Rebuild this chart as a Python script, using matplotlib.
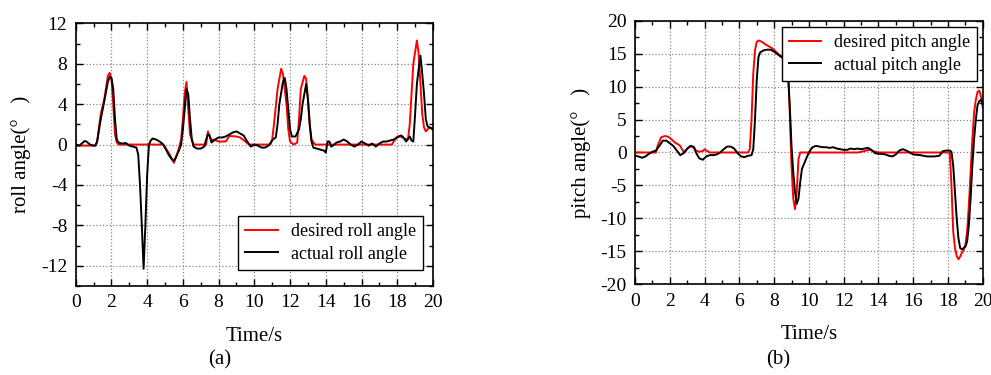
import numpy as np
import matplotlib
matplotlib.use('Agg')
import matplotlib.pyplot as plt
from matplotlib.ticker import MultipleLocator

plt.rcParams['font.family'] = ['Liberation Serif', 'DejaVu Serif']
plt.rcParams['axes.unicode_minus'] = False

# (a) roll angle
roll_des_t = [0, 1.1, 1.2, 1.4, 1.6, 1.8, 1.9, 2.0, 2.1, 2.2, 2.3, 2.4, 4.9, 5.2, 5.5, 5.7, 5.8,
              5.9, 6.0, 6.1, 6.2, 6.3, 6.4, 6.6, 7.3, 7.4, 7.5, 7.6, 7.7, 8.0, 8.4, 8.6, 9.0,
              9.2, 9.5, 9.7, 10.9, 11.0, 11.1, 11.3, 11.5, 11.6, 11.8, 11.9, 12.0, 12.2, 12.4,
              12.5, 12.6, 12.8, 12.9, 13.0, 13.1, 13.2, 13.4, 17.7, 17.8, 18.0, 18.2, 18.4, 18.6,
              18.7, 18.8, 18.9, 19.1, 19.2, 19.3, 19.4, 19.5, 19.6, 19.8, 20.0]
roll_des = [-0.1, -0.1, 0.3, 3.0, 4.5, 6.8, 7.1, 6.5, 4.0, 1.0, 0.2, 0.0, 0.0, -0.8, -1.8, -0.8, -0.2,
            0.5, 2.5, 5.0, 6.2, 3.5, 1.0, 0.0, 0.0, 1.3, 0.8, 0.4, 0.5, 0.3, 0.3, 0.85, 0.8,
            0.7, 0.3, 0.0, 0.0, 0.5, 2.0, 5.5, 7.5, 7.0, 4.0, 1.5, 0.3, 0.0, 0.2,
            2.5, 5.5, 6.8, 6.5, 4.5, 2.0, 0.5, 0.0, 0.0, 0.3, 0.8, 0.8, 0.6, 0.5,
            2.0, 5.0, 8.0, 10.3, 9.0, 6.0, 3.0, 1.7, 1.3, 1.7, 1.6]

roll_act_t = [0, 0.2, 0.4, 0.5, 0.6, 0.8, 1.0, 1.1, 1.2, 1.4, 1.6, 1.8, 1.9, 2.0, 2.1, 2.2, 2.3,
              2.4, 2.6, 2.8, 3.0, 3.2, 3.4, 3.5, 3.6, 3.7, 3.8, 3.9, 4.0, 4.1, 4.2, 4.3, 4.5,
              4.7, 4.9, 5.0, 5.2, 5.4, 5.5, 5.6, 5.8, 5.9, 6.0, 6.1, 6.2, 6.3, 6.4, 6.5, 6.6,
              6.8, 7.0, 7.2, 7.3, 7.4, 7.5, 7.6, 7.8, 8.0, 8.2, 8.4, 8.6, 8.8, 9.0, 9.2, 9.4,
              9.6, 9.8, 10.0, 10.2, 10.4, 10.6, 10.8, 11.0, 11.1, 11.2, 11.3, 11.4, 11.6, 11.7,
              11.8, 11.9, 12.0, 12.1, 12.3, 12.5, 12.6, 12.7, 12.9, 13.0, 13.1, 13.2, 13.3,
              13.5, 13.7, 13.9, 14.0, 14.1, 14.2, 14.3, 14.4, 14.6, 14.8, 15.0, 15.2, 15.4,
              15.6, 15.8, 16.0, 16.2, 16.4, 16.6, 16.8, 17.0, 17.2, 17.4, 17.6, 17.8, 18.0,
              18.2, 18.3, 18.5, 18.7, 18.8, 18.9, 19.0, 19.1, 19.2, 19.3, 19.4, 19.5, 19.6,
              19.7, 19.8, 20.0]
roll_act = [0.0, -0.1, 0.2, 0.35, 0.3, 0.0, -0.1, -0.1, 0.3, 2.5, 4.3, 6.2, 6.7, 6.6, 5.5, 2.5, 0.5,
            0.2, 0.1, 0.15, -0.1, -0.2, -0.3, -1.0, -4.0, -8.0, -12.3, -8.0, -3.0, 0.0, 0.4, 0.6, 0.5,
            0.3, 0.0, -0.3, -1.0, -1.5, -1.6, -1.3, -0.5, 0.0, 1.5, 3.5, 5.5, 5.0, 2.5, 0.5, -0.2,
            -0.4, -0.4, -0.2, 0.5, 1.0, 0.9, 0.2, 0.5, 0.7, 0.7, 0.8, 1.0, 1.2, 1.3, 1.1, 0.9,
            0.3, -0.2, 0.0, -0.1, -0.3, -0.3, -0.1, 0.4, 0.6, 0.7, 2.0, 4.0, 6.2, 6.6,
            5.5, 3.5, 1.5, 0.8, 0.8, 1.5, 2.5, 4.0, 6.0, 4.5, 2.0, 0.3, -0.3,
            -0.4, -0.5, -0.6, -0.8, 0.3, 0.3, -0.2, -0.1, 0.2, 0.3, 0.5, 0.3, 0.0,
            -0.2, 0.0, 0.3, 0.1, -0.1, 0.1, -0.2, 0.1, 0.3, 0.3, 0.4, 0.5, 0.7,
            0.9, 0.8, 0.3, 0.8, 0.4, 0.3, 3.0, 6.0, 7.5, 8.8, 7.0, 5.0, 2.5,
            1.8, 1.7, 1.5]

# (b) pitch angle
pitch_des_t = [0, 1.2, 1.3, 1.5, 1.7, 1.9, 2.1, 2.3, 2.5, 2.6, 2.7, 2.8, 2.9, 3.1, 3.2, 3.3, 3.5,
               3.7, 3.8, 3.9, 4.0, 4.1, 4.3, 6.5, 6.6, 6.7, 6.8, 6.9, 7.0, 7.1, 7.3, 7.5, 7.7,
               7.9, 8.1, 8.3, 8.5, 8.7, 8.8, 8.9, 9.0, 9.1, 9.2, 9.3, 9.4, 9.5, 12.8, 13.0,
               13.3, 13.5, 13.7, 14.0, 18.1, 18.2, 18.3, 18.4, 18.5, 18.6, 18.7, 18.8, 18.9,
               19.0, 19.1, 19.2, 19.3, 19.4, 19.5, 19.6, 19.7, 19.8, 19.9, 20.0]
pitch_des = [0.0, 0.0, 1.0, 2.3, 2.5, 2.4, 2.0, 1.5, 1.2, 1.0, 0.5, 0.1, 0.2, 0.8, 1.0, 0.9, 0.3,
             0.1, 0.2, 0.2, 0.5, 0.3, 0.0, 0.0, 0.5, 5.0, 12.0, 15.5, 16.8, 17.0, 16.8, 16.4, 16.1,
             15.8, 15.3, 14.8, 14.5, 14.0, 12.5, 6.0, -2.0, -7.0, -8.6, -6.0, -1.0, 0.0, 0.0, 0.1,
             0.3, 0.4, 0.2, 0.0, 0.0, -5.0, -12.0, -14.5, -15.7, -16.2, -15.8, -15.2, -14.8,
             -14.0, -12.0, -8.0, -3.0, 2.0, 6.0, 8.0, 9.2, 9.4, 8.5, 6.8]

pitch_act_t = [0, 0.2, 0.4, 0.6, 0.8, 1.0, 1.2, 1.4, 1.6, 1.8, 2.0, 2.2, 2.4, 2.6, 2.8, 3.0, 3.2,
               3.4, 3.5, 3.7, 3.9, 4.1, 4.3, 4.5, 4.7, 4.9, 5.1, 5.3, 5.5, 5.7, 5.9, 6.1, 6.3,
               6.5, 6.7, 6.8, 6.9, 7.0, 7.1, 7.2, 7.4, 7.6, 7.8, 8.0, 8.2, 8.4, 8.6, 8.7, 8.8,
               8.9, 9.0, 9.1, 9.2, 9.3, 9.4, 9.5, 9.6, 9.8, 10.0, 10.2, 10.4, 10.6, 10.8, 11.0,
               11.2, 11.4, 11.6, 11.8, 12.0, 12.2, 12.4, 12.6, 12.8, 13.0, 13.2, 13.4, 13.6,
               13.8, 14.0, 14.2, 14.4, 14.6, 14.8, 15.0, 15.2, 15.4, 15.6, 15.8, 16.0, 16.4,
               16.8, 17.2, 17.5, 17.7, 17.9, 18.1, 18.2, 18.3, 18.4, 18.5, 18.6, 18.7, 18.8,
               18.9, 19.0, 19.1, 19.2, 19.3, 19.4, 19.5, 19.6, 19.7, 19.8, 19.9, 20.0]
pitch_act = [-0.5, -0.6, -0.8, -0.6, -0.2, 0.1, 0.3, 1.0, 1.8, 1.8, 1.4, 1.0, 0.3, -0.4, -0.1, 0.6, 1.0,
             0.8, 0.0, -0.9, -1.1, -0.6, -0.4, -0.4, -0.3, 0.0, 0.5, 0.9, 0.9, 0.6, -0.1, -0.6, -0.7,
             -0.5, -0.4, 0.5, 5.0, 11.0, 14.5, 15.2, 15.5, 15.6, 15.6, 15.3, 14.9, 14.5, 14.2, 14.0, 12.0,
             7.0, 1.0, -3.0, -6.0, -7.8, -7.0, -4.5, -2.5, -1.2, 0.0, 0.8, 1.0, 0.9, 0.8, 0.8,
             0.7, 0.8, 0.6, 0.5, 0.4, 0.4, 0.6, 0.5, 0.6, 0.5, 0.6, 0.7, 0.4,
             -0.1, -0.2, -0.2, -0.3, -0.5, -0.6, -0.3, 0.3, 0.5, 0.3, 0.0, -0.3, -0.4,
             -0.6, -0.6, -0.5, 0.2, 0.3, 0.3, 0.1, -2.0, -6.0, -10.0, -13.0, -14.5, -14.7,
             -14.5, -14.3, -13.5, -11.0, -7.0, -2.0, 2.0, 5.0, 7.2, 7.8, 8.0, 7.3]

fig = plt.figure(figsize=(9.91, 3.75), dpi=100)
ax1 = fig.add_axes([0.0764, 0.2373, 0.3605, 0.7005])
ax2 = fig.add_axes([0.6408, 0.2419, 0.3509, 0.7029])


def style(ax, ymin, ymax, ystep):
  ax.set_xlim(0, 20)
  ax.set_ylim(ymin, ymax)
  ax.xaxis.set_major_locator(MultipleLocator(2))
  ax.xaxis.set_minor_locator(MultipleLocator(1))
  ax.yaxis.set_major_locator(MultipleLocator(ystep))
  ax.yaxis.set_minor_locator(MultipleLocator(ystep / 2))
  ax.tick_params(which='both', direction='in', top=True, right=True, labelsize=14, width=1)
  ax.tick_params(which='major', length=5, pad=6)
  ax.tick_params(which='minor', length=3)
  ax.grid(True, which='major', linestyle=':', color='#888888', linewidth=0.9)
  for s in ax.spines.values():
    s.set_linewidth(1.2)
  ax.set_xlabel('Time/s', fontsize=15)
  ax.xaxis.set_label_coords(0.5, -0.155)


legend_kw = dict(fontsize=13, fancybox=False, edgecolor='black', framealpha=1,
                 handlelength=1.8, handletextpad=0.7, borderpad=0.4, labelspacing=0.3,
                 borderaxespad=0)

ax1.plot(roll_des_t, roll_des, color='red', lw=1.4, label='desired roll angle')
ax1.plot(roll_act_t, roll_act, color='black', lw=1.4, label='actual roll angle')
style(ax1, -14, 12, 4)
ax1.set_yticks([-12, -8, -4, 0, 4, 8, 12])
ax1.set_ylabel('roll angle(°   )', fontsize=15)
ax1.yaxis.set_label_coords(-0.124, 0.5)
leg1 = ax1.legend(loc='lower right', bbox_to_anchor=(0.972, 0.061), **legend_kw)
leg1.get_frame().set_linewidth(1.0)

ax2.plot(pitch_des_t, pitch_des, color='red', lw=1.4, label='desired pitch angle')
ax2.plot(pitch_act_t, pitch_act, color='black', lw=1.4, label='actual pitch angle')
style(ax2, -20, 20, 5)
ax2.set_ylabel('pitch angle(°   )', fontsize=15)
ax2.yaxis.set_label_coords(-0.126, 0.5)
leg2 = ax2.legend(loc='upper right', bbox_to_anchor=(0.984, 0.976), **legend_kw)
leg2.get_frame().set_linewidth(1.0)

fig.text(0.222, 0.04, '(a)', fontsize=15, ha='center', va='center')
fig.text(0.785, 0.04, '(b)', fontsize=15, ha='center', va='center')

fig.savefig('out.png', dpi=100)
